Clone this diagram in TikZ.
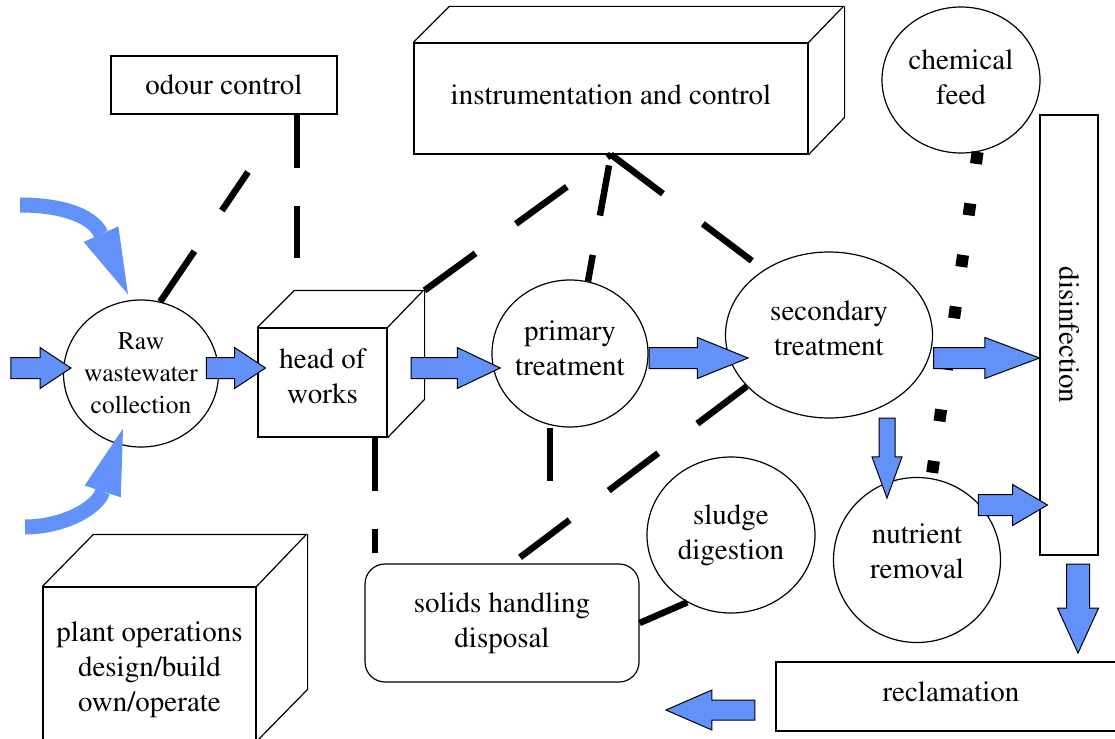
\documentclass[tikz,border=0pt]{standalone}
\usepackage{graphicx}
\usepackage[T1]{fontenc}
\usepackage{mathptmx}
\usetikzlibrary{arrows.meta,calc,shapes.geometric,shapes.arrows}
\definecolor{FlowClr}{RGB}{98,145,250}

\begin{document}
\begin{tikzpicture}[x=1pt,y=-1pt,line width=1.2pt,
  txt/.style={font=\rmfamily\fontsize{29}{35}\selectfont,align=center,inner sep=0pt},
  boxnode/.style={txt,draw,rectangle},
  roundnode/.style={txt,draw,ellipse},
  flow/.style={single arrow,draw=black,line width=1pt,fill=FlowClr,text height=0pt,text depth=0pt,
    inner xsep=0pt,inner ysep=10pt,single arrow head extend=10pt},
  flowdown/.style={flow,shape border rotate=270,inner ysep=0pt},
  ctrl/.style={line width=6.5pt},
  curved/.style={FlowClr,line width=15pt,-{Triangle[length=66pt,width=38pt,line width=0pt]}}]
\useasboundingbox (0,0) rectangle (1115,738);
\clip (0,0) rectangle (1115,738);

\node[roundnode,font=\rmfamily\fontsize{25.5}{32}\selectfont,inner xsep=-4pt,minimum width=155pt,minimum height=147pt] (raw) at (141,373.5) {Raw\\wastewater\\collection};
\node[roundnode,minimum width=156pt,minimum height=147pt] (prim) at (570,353.5) {primary\\treatment\\[-24pt]};
\node[roundnode,minimum width=207pt,minimum height=166pt] (sec) at (829,335) {secondary\\treatment\\[-21pt]};
\node[roundnode,minimum width=158pt,minimum height=146pt] (chem) at (961,80) {chemical\\feed\\[-30pt]};
\node[roundnode,minimum width=167pt,minimum height=165pt] (nut) at (917,560) {nutrient\\removal\\[-18pt]};
\node[roundnode,minimum width=168pt,minimum height=156pt] (sl) at (731,535) {sludge\\digestion};

\node[boxnode,minimum width=226pt,minimum height=58pt] (odour) at (224,85) {odour control};
\node[boxnode,minimum width=58pt,minimum height=440pt] (dis) at (1069,335) {\rotatebox{-90}{disinfection}};
\node[boxnode,minimum width=350pt,minimum height=69pt] (rec) at (951,696.5) {reclamation\\[-25pt]};
\node[boxnode,rounded corners=20pt,minimum width=274pt,minimum height=118pt] (sol) at (502,623) {solids handling\\disposal};

\node[boxnode,minimum width=129pt,minimum height=109pt] (hw) at (322.5,382.5) {head of\\works\\[-23pt]};
\draw (hw.north west) -- ++(37,-37) -- ++(129,0) -- (hw.north east);
\draw (hw.north east) ++(37,-37) coordinate (hwc) -- ++(0,109) -- (hw.south east);

\node[boxnode,minimum width=394pt,minimum height=111pt] (instr) at (611,98.5) {instrumentation and control\\[-27pt]};
\draw (instr.north west) -- ++(36,-36) -- ++(394,0) -- (instr.north east);
\draw (instr.north east) ++(36,-36) -- ++(0,111) -- (instr.south east);

\node[boxnode,minimum width=213pt,minimum height=165pt] (plant) at (149.5,669.5) {plant operations\\design/build\\own/operate};
\draw (plant.north west) -- ++(51,-52) -- ++(213,0) -- (plant.north east);
\draw (plant.north east) ++(51,-52) -- ++(0,155) -- ++(-51,52);

\coordinate (hwtop) at (297,258);
\coordinate (odtip) at (248,172);
\draw[ctrl,dash pattern=on 53pt off 38pt] ([xshift=73pt]odour.south) -- (hwtop);
\draw[ctrl,dash pattern=on 61pt off 49pt] (raw.75) -- (odtip);
\draw[ctrl,dash pattern=on 63pt off 50pt] (hwc) -- (instr.south);
\draw[ctrl,dash pattern=on 51pt off 40pt,dash phase=80pt] (instr.south) -- (prim.76);
\draw[ctrl,dash pattern=on 65pt off 50pt,shorten >=15pt] (instr.south) -- (sec.135);
\draw[ctrl,dash pattern=on 53pt off 38pt,shorten >=10pt] ([xshift=52.5pt]hw.south) -- ([xshift=-127pt]sol.north);
\draw[ctrl,dash pattern=on 53pt off 90pt] ([xshift=-20pt]prim.south) -- ([xshift=48pt]sol.north);
\draw[ctrl,dash pattern=on 62pt off 49pt] (sec.212) -- ([xshift=10pt]sol.north);
\draw[ctrl] (sl.237) -- (sol.east);
\draw[line width=12pt,dash pattern=on 12pt off 40pt] (chem.-77) -- (nut.80);

\node[flow,minimum height=60pt,single arrow tip angle=67,anchor=tip] (f1) at ([shift={(9,-5.5)}]raw.west) {};
\node[flow,minimum height=59pt,single arrow tip angle=67,anchor=tip] (f2) at ([shift={(9,-14.5)}]hw.west) {};
\node[flow,minimum height=89pt,single arrow tip angle=51,anchor=tip] (f3) at ([shift={(10,14.5)}]prim.west) {};
\node[flow,minimum height=99pt,single arrow tip angle=44,anchor=tail] (f4) at ([shift={(0,4.5)}]prim.east) {};
\node[flow,minimum height=106pt,single arrow tip angle=41,anchor=tail] (f5) at ([shift={(0,23)}]sec.east) {};
\node[flowdown,minimum height=80pt,single arrow tip angle=40,inner xsep=7.5pt,single arrow head extend=7pt,
  anchor=tail] (f6) at ([shift={(58,-1)}]sec.south) {};
\node[flow,minimum height=69pt,single arrow tip angle=61,anchor=tip] (f7) at ([shift={(9,170)}]dis.west) {};
\node[flowdown,minimum height=89pt,single arrow tip angle=49,inner xsep=11pt,single arrow head extend=9pt,
  anchor=tail] (f8) at ([shift={(9,8)}]dis.south) {};
\node[flow,minimum height=89pt,single arrow tip angle=47,inner ysep=9.5pt,
  shape border rotate=180,anchor=tail] (f9) at ([shift={(-20,13.5)}]rec.west) {};

\coordinate (srcA) at (20,205);
\coordinate (srcB) at (25,527);
\draw[curved] (srcA) .. controls (58,205) and (92,214) .. ([shift={(-13,-5)}]raw.north);
\draw[curved] (srcB) .. controls (62,527) and (97,509) .. ([shift={(-18,-19)}]raw.south);
\end{tikzpicture}
\end{document}
